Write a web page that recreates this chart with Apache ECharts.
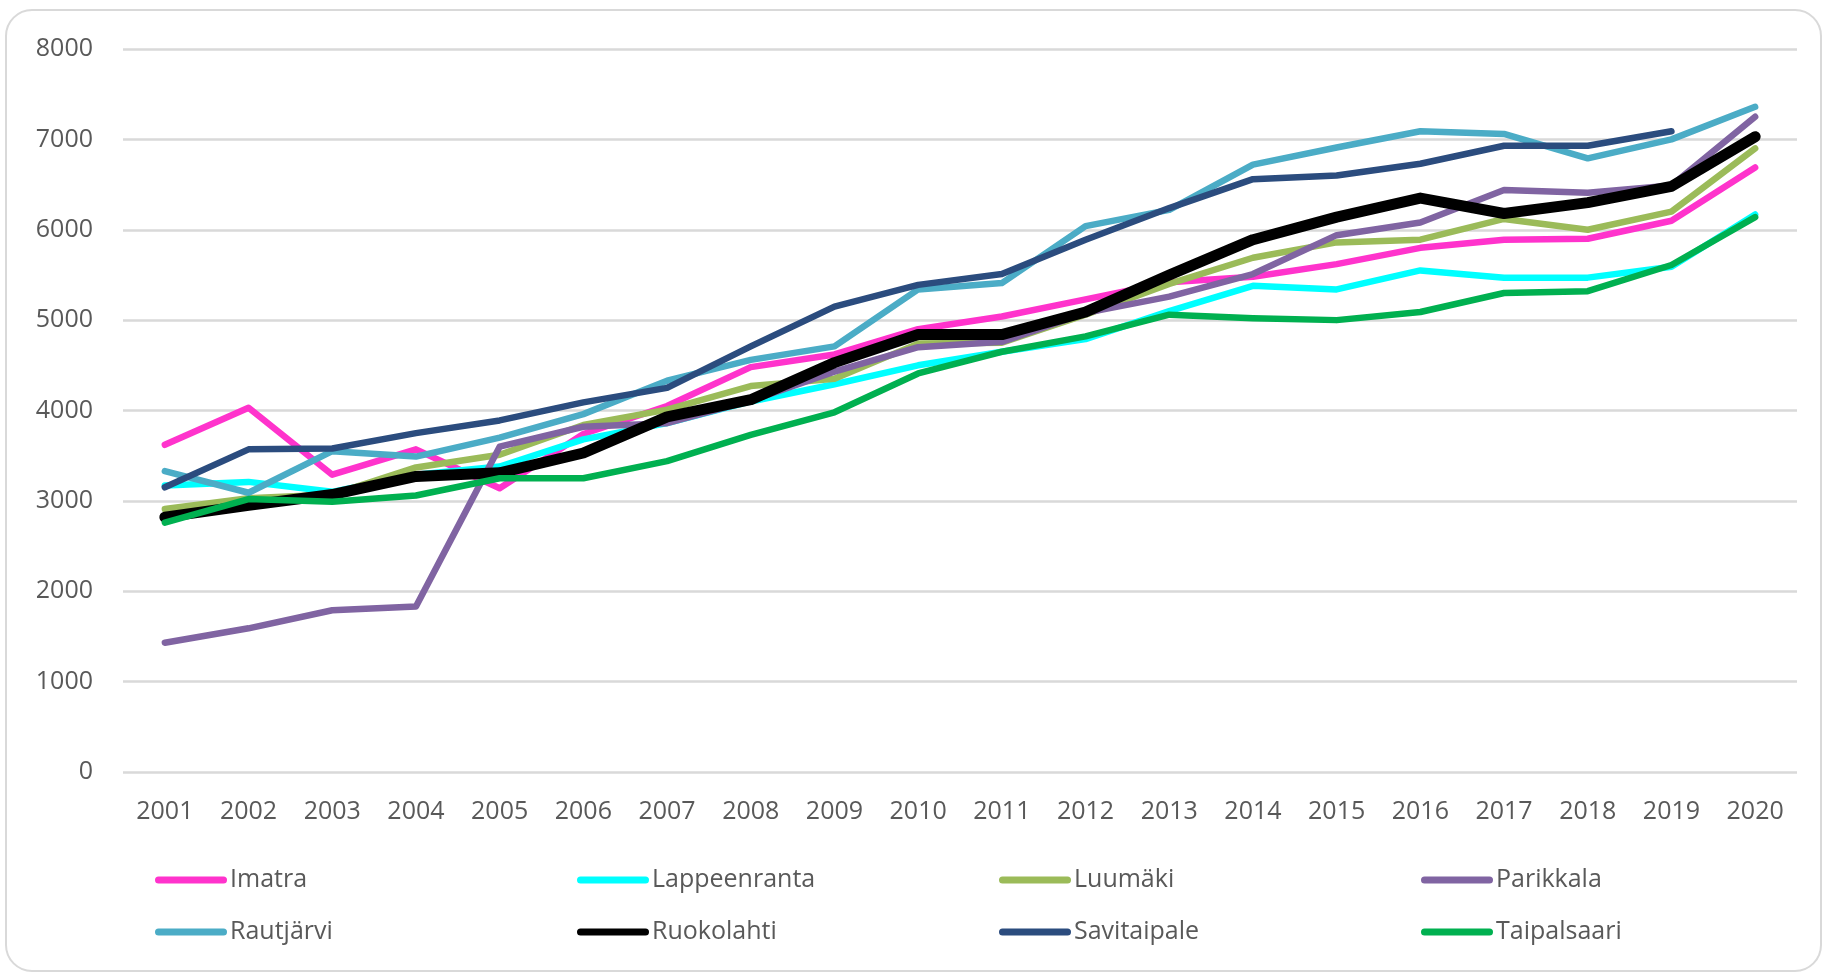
<!DOCTYPE html>
<html>
<head>
<meta charset="utf-8">
<title>Kunnat 2001-2020</title>
<script src="https://cdn.jsdelivr.net/npm/echarts@6/dist/echarts.min.js"></script>
<style>
  html, body { margin: 0; padding: 0; background: #fff; }
  #main { width: 1825px; height: 974px; }
</style>
</head>
<body>
<div id="main"></div>
<script>
var years = ['2001','2002','2003','2004','2005','2006','2007','2008','2009','2010',
             '2011','2012','2013','2014','2015','2016','2017','2018','2019','2020'];

var imatra       = [3620, 4030, 3290, 3570, 3140, 3740, 4050, 4480, 4620, 4900, 5040, 5230, 5420, 5480, 5620, 5800, 5890, 5900, 6100, 6690];
var lappeenranta = [3170, 3210, 3100, 3290, 3380, 3680, 3860, 4100, 4290, 4500, 4650, 4790, 5100, 5380, 5340, 5550, 5470, 5470, 5590, 6170];
var luumaki      = [2910, 3030, 3070, 3370, 3510, 3840, 4010, 4270, 4350, 4740, 4750, 5060, 5400, 5690, 5860, 5890, 6120, 6000, 6200, 6900];
var parikkala    = [1430, 1590, 1790, 1830, 3600, 3820, 3860, 4110, 4430, 4700, 4760, 5080, 5260, 5510, 5940, 6080, 6440, 6410, 6490, 7250];
var rautjarvi    = [3330, 3090, 3550, 3490, 3700, 3960, 4330, 4560, 4710, 5340, 5410, 6040, 6220, 6720, 6910, 7090, 7060, 6790, 7000, 7360];
var ruokolahti   = [2820, 2950, 3070, 3270, 3310, 3530, 3930, 4120, 4530, 4840, 4840, 5090, 5500, 5890, 6140, 6350, 6180, 6300, 6480, 7030];
var savitaipale  = [3150, 3570, 3580, 3750, 3890, 4090, 4250, 4710, 5150, 5390, 5510, 5890, 6240, 6560, 6600, 6730, 6930, 6930, 7090, null];
var taipalsaari  = [2760, 3020, 2990, 3060, 3250, 3250, 3440, 3730, 3980, 4410, 4650, 4820, 5060, 5020, 5000, 5090, 5300, 5320, 5610, 6140];

var names  = ['Imatra', 'Lappeenranta', 'Luumäki', 'Parikkala', 'Rautjärvi', 'Ruokolahti', 'Savitaipale', 'Taipalsaari'];
var values = [imatra, lappeenranta, luumaki, parikkala, rautjarvi, ruokolahti, savitaipale, taipalsaari];
var colors = ['#FF33CC', '#00FFFF', '#9BBB59', '#8064A2', '#4BACC6', '#000000', '#2B4C7E', '#00B050'];
var widths = [6.5, 6.5, 6.5, 6.5, 6.5, 11, 6.5, 6.5];

var font = "'Open Sans', 'Noto Sans', sans-serif";
var textColor = '#595959';

var myChart = echarts.init(document.getElementById('main'), null, { renderer: 'canvas' });

var series = names.map(function (n, i) {
    return {
        name: n,
        type: 'line',
        data: values[i],
        color: colors[i],
        showSymbol: false,
        symbol: 'none',
        connectNulls: false,
        lineStyle: { width: widths[i], color: colors[i], cap: 'round', join: 'round' },
        emphasis: { disabled: true }
    };
});

// legend: 4 columns, 2 rows
var capsule = 'path://M3.5,0 H68.5 A3.5,3.5 0 0 1 68.5,7 H3.5 A3.5,3.5 0 0 1 3.5,0 Z';
var colX = [155, 577, 999, 1421];
var legends = colX.map(function (x, c) {
    return {
        orient: 'vertical',
        left: x,
        top: 865,
        itemWidth: 72,
        itemHeight: 7,
        itemGap: 22,
        icon: capsule,
        padding: 0,
        selectedMode: false,
        data: [names[c], names[c + 4]],
        textStyle: { color: textColor, fontSize: 25, fontFamily: font, lineHeight: 30, padding: [0, 0, 0, -2] }
    };
});

var option = {
    animation: false,
    backgroundColor: '#ffffff',
    graphic: [{
        type: 'rect',
        shape: { x: 6, y: 10, width: 1815, height: 961, r: 26 },
        style: { fill: 'none', stroke: '#D9D9D9', lineWidth: 2 },
        silent: true,
        z: -10
    }],
    legend: legends,
    grid: { left: 123, right: 28, top: 49, bottom: 202, containLabel: false },
    xAxis: {
        type: 'category',
        data: years,
        boundaryGap: true,
        axisLine: { show: false },
        axisTick: { show: false },
        axisLabel: { color: textColor, fontSize: 25, fontFamily: font, margin: 27, interval: 0 }
    },
    yAxis: {
        type: 'value',
        min: 0,
        max: 8000,
        interval: 1000,
        axisLine: { show: false },
        axisTick: { show: false },
        axisLabel: {
            color: textColor, fontSize: 25, fontFamily: font, margin: 30,
            formatter: function (v) { return String(v); }
        },
        splitLine: { lineStyle: { color: '#D9D9D9', width: 2.5 } }
    },
    series: series
};

myChart.setOption(option);
</script>
</body>
</html>
